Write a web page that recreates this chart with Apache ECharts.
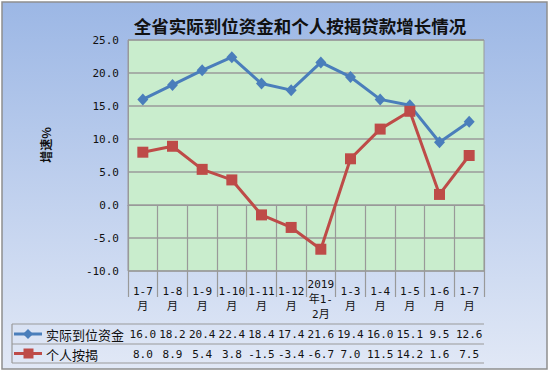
<!DOCTYPE html>
<html>
<head>
<meta charset="utf-8">
<script src="https://cdn.jsdelivr.net/npm/echarts@6/dist/echarts.min.js"></script>
<style>html,body{margin:0;padding:0;background:#fff}#c{width:550px;height:374px}</style>
</head>
<body>
<div id="c"></div>
<script>
const titleText = '全省实际到位资金和个人按揭贷款增长情况';
const yAxisName = '增速%';
const categories = ['1-7\n月','1-8\n月','1-9\n月','1-10\n月','1-11\n月','1-12\n月','2019\n年1-\n2月','1-3\n月','1-4\n月','1-5\n月','1-6\n月','1-7\n月'];
const seriesNames = ['实际到位资金','个人按揭'];
const fundsValues = [16.0, 18.2, 20.4, 22.4, 18.4, 17.4, 21.6, 19.4, 16.0, 15.1, 9.5, 12.6];
const mortgageValues = [8.0, 8.9, 5.4, 3.8, -1.5, -3.4, -6.7, 7.0, 11.5, 14.2, 1.6, 7.5];
const yMin = -10, yMax = 25, yInterval = 5;

const blue = '#4a7ebb', red = '#be4b48';
const G = {left:128, top:40, width:356, height:231};
const tableBottom = 363, row1 = 324, row2 = 344, legendLeft = 12;
const colW = G.width / categories.length;
const monoFont = "'DejaVu Sans Mono','Noto Sans CJK SC',monospace";

const graphics = [];
graphics.push({type:'rect', z:-100, silent:true,
  shape:{x:2,y:2,width:545,height:367},
  style:{fill:new echarts.graphic.LinearGradient(0,0,0,1,[{offset:0,color:'#9cb7e5'},{offset:1,color:'#e1e8f6'}]), stroke:'#8e8e8e', lineWidth:1.5}});
graphics.push({type:'text', x:300, y:25, style:{text:titleText, align:'center', verticalAlign:'middle', font:"bold 17.5px 'Noto Sans CJK SC'", fill:'#111'}});
graphics.push({type:'text', x:45, y:145, rotation:Math.PI/2, style:{text:yAxisName, align:'center', verticalAlign:'middle', font:"bold 12px 'Noto Sans CJK SC'", fill:'#111'}});
// table horizontal lines
[row1,row2,tableBottom].forEach(y=>graphics.push({type:'line', shape:{x1:legendLeft,y1:y,x2:G.left+G.width,y2:y}, style:{stroke:'#999',lineWidth:1.2}}));
graphics.push({type:'line', shape:{x1:legendLeft,y1:row1,x2:legendLeft,y2:tableBottom}, style:{stroke:'#999',lineWidth:1.2}});
// legend keys
const rowCenters = [(row1+row2)/2, (row2+tableBottom)/2];
graphics.push({type:'line', shape:{x1:14,y1:rowCenters[0],x2:42,y2:rowCenters[0]}, style:{stroke:blue,lineWidth:3}});
graphics.push({type:'polygon', shape:{points:[[28,rowCenters[0]-5],[33,rowCenters[0]],[28,rowCenters[0]+5],[23,rowCenters[0]]]}, style:{fill:blue}});
graphics.push({type:'line', shape:{x1:14,y1:rowCenters[1],x2:42,y2:rowCenters[1]}, style:{stroke:red,lineWidth:3}});
graphics.push({type:'rect', shape:{x:23.5,y:rowCenters[1]-5,width:10,height:10}, style:{fill:red}});
seriesNames.forEach((n,i)=>graphics.push({type:'text', x:46, y:rowCenters[i]+0.5, style:{text:n, verticalAlign:'middle', font:"13px 'Noto Sans CJK SC'", fill:'#111'}}));
[fundsValues, mortgageValues].forEach((arr,r)=>arr.forEach((v,i)=>graphics.push({type:'text',
  x:G.left+(i+0.5)*colW, y:rowCenters[r]+0.5,
  style:{text:v.toFixed(1), align:'center', verticalAlign:'middle', font:"11px "+monoFont, fill:'#111'}})));

const chart = echarts.init(document.getElementById('c'), null, {renderer:'svg'});
chart.setOption({
  backgroundColor:'#ffffff',
  animation:false,
  grid:{left:G.left, top:G.top, width:G.width, height:G.height, show:true, backgroundColor:'#c9edcd', borderColor:'#999', borderWidth:1},
  xAxis:{type:'category', data:categories, boundaryGap:true,
    axisLine:{lineStyle:{color:'#999',width:1.2}},
    axisTick:{show:true, interval:0, length:tableBottom-(G.top+G.height), lineStyle:{color:'#999',width:1.2}},
    axisLabel:{interval:0, margin:28, verticalAlign:'middle', lineHeight:15, fontSize:11, fontFamily:monoFont, color:'#111'}},
  yAxis:{type:'value', min:yMin, max:yMax, interval:yInterval,
    axisLine:{show:true, lineStyle:{color:'#999'}}, axisTick:{show:false},
    axisLabel:{margin:9, fontSize:11, fontFamily:monoFont, color:'#111', formatter:v=>v.toFixed(1)},
    splitLine:{lineStyle:{color:'#9a9a9a', width:1.5}}},
  series:[
    {name:seriesNames[0], type:'line', data:fundsValues, symbol:'diamond', symbolSize:[11,12], lineStyle:{color:blue,width:3}, itemStyle:{color:blue}, z:3},
    {name:seriesNames[1], type:'line', data:mortgageValues, symbol:'rect', symbolSize:11, lineStyle:{color:red,width:3}, itemStyle:{color:red}, z:4}
  ],
  graphic:graphics
});
</script>
</body>
</html>
